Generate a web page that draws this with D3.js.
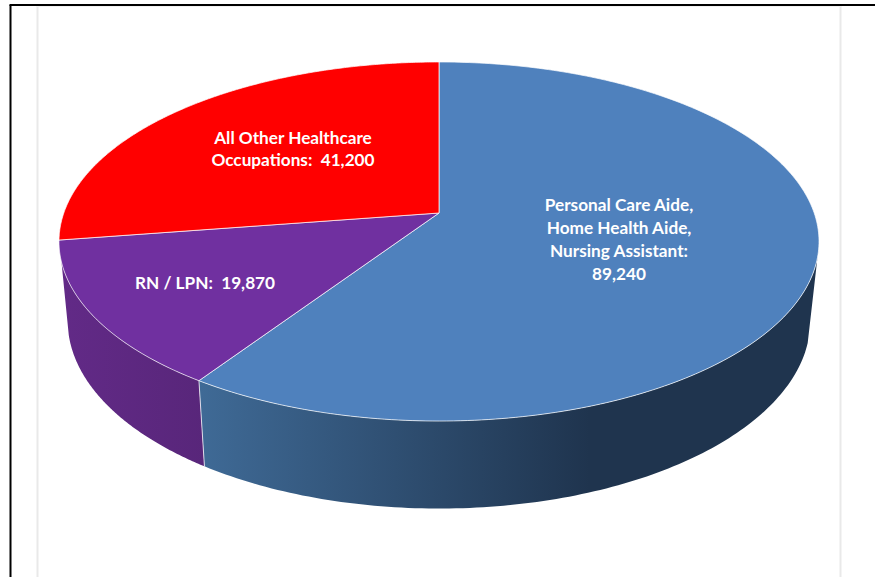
<!DOCTYPE html>
<html><head><meta charset="utf-8">
<style>html,body{margin:0;padding:0;background:#fff;overflow:hidden}svg{display:block}
text{font-family:Lato,"Open Sans",sans-serif;font-weight:700;fill:#fff;font-size:17.2px;text-anchor:middle;white-space:pre}</style>
<script src="https://cdn.jsdelivr.net/npm/d3@7"></script></head><body>
<script>
const categories = ["Personal Care Aide, Home Health Aide, Nursing Assistant","RN / LPN","All Other Healthcare Occupations"];
const values = [89240, 19870, 41200];
const topColors = ["#4f81bd","#7030a0","#ff0000"];
const wallStops = [["#3f6a96","#1f344e"],["#622a87","#58267a"],["#990000","#990000"]];
const labelLines = [
  ["Personal Care Aide,","Home Health Aide,","Nursing Assistant:","89,240"],
  ["RN / LPN:  19,870"],
  ["All Other Healthcare","Occupations:  41,200"]
];

const W = 875, H = 577;
const svg = d3.select("body").append("svg").attr("width",W).attr("height",H);

// page furniture
svg.append("rect").attr("width",W).attr("height",H).attr("fill","#fff");
const furn = [[37.5,6,37.5,H,"#e9e9e9",2],[840.5,6,840.5,H,"#e9e9e9",2],[37,6.5,841,6.5,"#f2f2f2",1],
              [10.5,5,10.5,H,"#000",2],[9.5,5,W,5,"#000",2]];
svg.selectAll("line.f").data(furn).join("line").attr("class","f")
  .attr("x1",d=>d[0]).attr("y1",d=>d[1]).attr("x2",d=>d[2]).attr("y2",d=>d[3])
  .attr("stroke",d=>d[4]).attr("stroke-width",d=>d[5]);

// perspective projection of the pie disc
const k = 0.1588;
const deg = Math.PI/180;
const rims = {
  top:{cx:439,y0:213,a:175,b:375.2,from:104.3*deg,to:254.4*deg},
  bot:{cx:439,y0:291,a:183,b:366.6,from:105.8*deg,to:256.6*deg}
};
function proj(rim, ang){
  const u = Math.sin(ang), v = -Math.cos(ang), s = 1/(1-k*v);
  return [rim.cx + rim.b*u*s, rim.y0 + rim.a*v*s];
}
const samples = (a,b,n=120)=>d3.range(n+1).map(i=>a+(b-a)*i/n);
const line = d3.line();

const arcs = d3.pie().sort(null).value(d=>d)(values);

// walls: only the part of the rim facing the viewer
const defs = svg.append("defs");
arcs.forEach((d,i)=>{
  const g = defs.append("linearGradient").attr("id","wall"+i).attr("gradientUnits","userSpaceOnUse");
  if(i===0){ g.attr("x1",200).attr("x2",590); } else { g.attr("x1",60).attr("x2",205); }
  g.attr("y1",0).attr("y2",0);
  g.append("stop").attr("offset",0).attr("stop-color",wallStops[i][0]);
  g.append("stop").attr("offset",1).attr("stop-color",wallStops[i][1]);
});
const clip = (d,r)=>[Math.max(d.startAngle,r.from),Math.min(d.endAngle,r.to)];
const walls = arcs.map((d,i)=>({i,d})).filter(w=>{const c=clip(w.d,rims.top);return c[1]>c[0];});
svg.selectAll("path.wall").data(walls).join("path").attr("class","wall")
  .attr("d",w=>{
    const t = clip(w.d,rims.top), b = clip(w.d,rims.bot);
    return line([...samples(t[0],t[1]).map(a=>proj(rims.top,a)),
                 ...samples(b[0],b[1]).reverse().map(a=>proj(rims.bot,a))])+"Z";
  })
  .attr("fill",w=>`url(#wall${w.i})`);
// seam between the two front walls
svg.append("path").attr("d",line([proj(rims.top,arcs[0].endAngle),proj(rims.bot,arcs[0].endAngle)]))
  .attr("stroke","#fff").attr("stroke-opacity",.75).attr("stroke-width",1).attr("fill","none");

// top face
svg.selectAll("path.top").data(arcs).join("path").attr("class","top")
  .attr("d",d=>line([[rims.top.cx,rims.top.y0],...samples(d.startAngle,d.endAngle,240).map(t=>proj(rims.top,t))])+"Z")
  .attr("fill",(d,i)=>topColors[i])
  .attr("stroke","#fff").attr("stroke-opacity",.7).attr("stroke-width",1).attr("stroke-linejoin","round");

// labels
const labelAnchor = [[619,204.5],[205,283],[293,138]];
const gaps = [23,23,22];
labelLines.forEach((lines,i)=>{
  svg.append("g").selectAll("text").data(lines).join("text")
    .attr("x",labelAnchor[i][0])
    .attr("y",(d,j)=>labelAnchor[i][1]+j*gaps[i]+6)
    .text(d=>d);
});
</script></body></html>
